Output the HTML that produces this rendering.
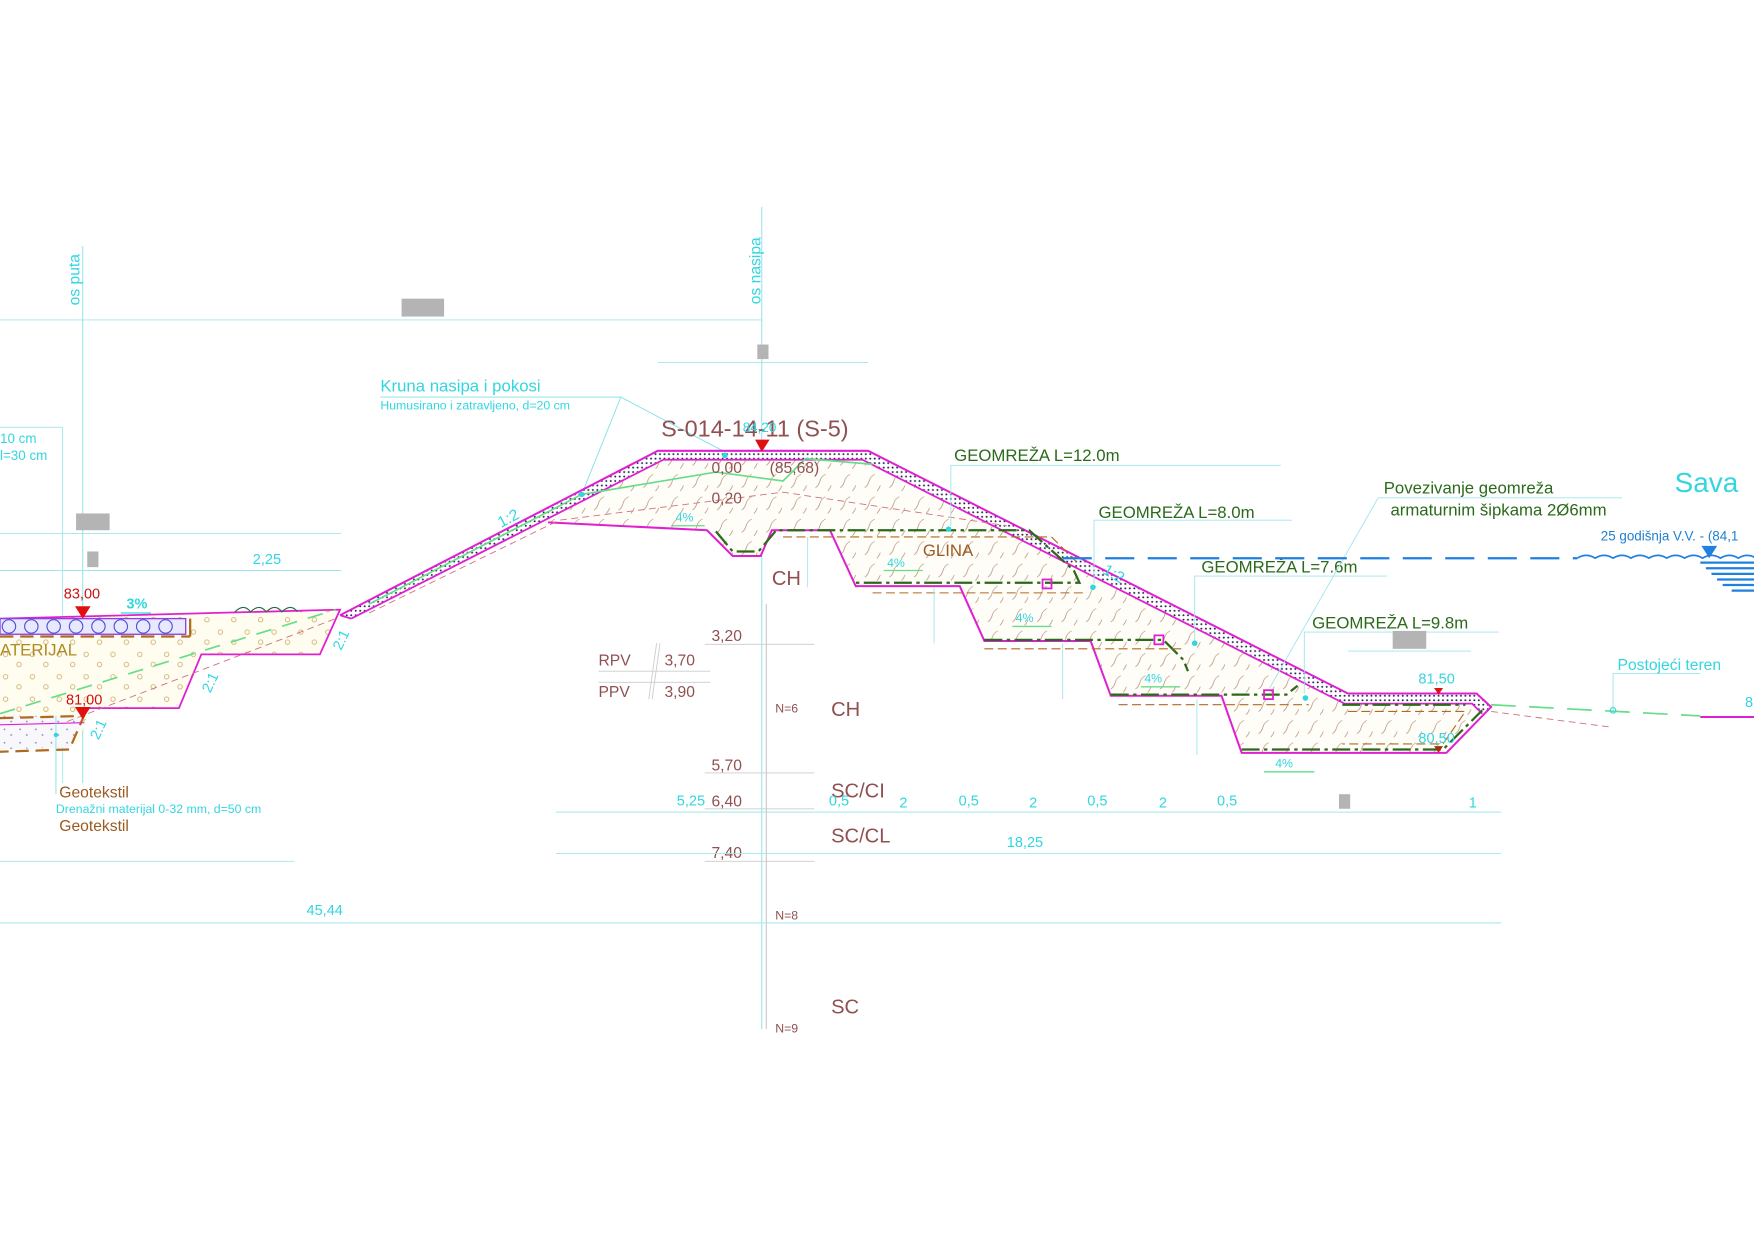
<!DOCTYPE html>
<html><head><meta charset="utf-8"><style>
html,body{margin:0;padding:0;background:#fff;}
svg{display:block;}
text{font-family:"Liberation Sans",sans-serif;}
</style></head><body>
<svg width="1754" height="1240" viewBox="0 0 1568 1108.5" xmlns="http://www.w3.org/2000/svg">
<defs>
<pattern id="clay" width="22" height="20" patternUnits="userSpaceOnUse">
<rect width="22" height="20" fill="#fffdf8"/>
<path d="M3 16 q3 -2 4 -6 q1 -4 5 -6" stroke="#b08a70" stroke-width="0.6" fill="none"/>
<path d="M14 19 q2 -2 3 -5" stroke="#b08a70" stroke-width="0.6" fill="none"/>
</pattern>
<pattern id="grav" width="24" height="20" patternUnits="userSpaceOnUse">
<rect width="24" height="20" fill="#fffdf0"/>
<circle cx="5" cy="5" r="2" stroke="#c9a860" stroke-width="0.7" fill="none"/>
<circle cx="17" cy="14" r="2" stroke="#c9a860" stroke-width="0.7" fill="none"/>
</pattern>
<pattern id="dots" width="4" height="4" patternUnits="userSpaceOnUse">
<rect width="4" height="4" fill="#fff"/>
<circle cx="2" cy="2" r="0.9" fill="#2a2a5a"/>
</pattern>
<pattern id="drain" width="14" height="12" patternUnits="userSpaceOnUse">
<rect width="14" height="12" fill="#f8f8fc"/>
<circle cx="4" cy="4" r="0.8" fill="#8888aa"/>
<circle cx="10" cy="9" r="0.8" fill="#8888aa"/>
</pattern>
</defs>

<!-- axes -->
<line x1="74" y1="220" x2="74" y2="700" stroke="#7fe0e8" stroke-width="0.8"/>
<text transform="translate(71,273) rotate(-90)" font-size="14" fill="#33d6e0">os puta</text>
<line x1="681" y1="185" x2="681" y2="920" stroke="#7fe0e8" stroke-width="0.8"/>
<line x1="685" y1="540" x2="685" y2="920" stroke="#bbb" stroke-width="0.8"/>
<text transform="translate(680,272) rotate(-90)" font-size="14" fill="#33d6e0">os nasipa</text>

<!-- top dims -->
<line x1="0" y1="286" x2="681" y2="286" stroke="#9fe6ec" stroke-width="0.8"/>
<rect x="359" y="267" width="38" height="16" fill="#b4b4b4"/>
<line x1="588" y1="324" x2="776" y2="324" stroke="#9fe6ec" stroke-width="0.8"/>
<rect x="677" y="308" width="10" height="13" fill="#b4b4b4"/>
<line x1="0" y1="477" x2="305" y2="477" stroke="#9fe6ec" stroke-width="0.8"/>
<rect x="68" y="459" width="30" height="15" fill="#b4b4b4"/>
<line x1="0" y1="510" x2="305" y2="510" stroke="#9fe6ec" stroke-width="0.8"/>
<rect x="78" y="493" width="10" height="14" fill="#b4b4b4"/>
<text x="226" y="504" font-size="13" fill="#33d6e0">2,25</text>
<polyline points="0,382 56,382 56,700" fill="none" stroke="#9fe6ec" stroke-width="0.8"/>
<text x="0" y="396" font-size="12" fill="#33d6e0">10 cm</text>
<text x="0" y="411" font-size="12" fill="#33d6e0">l=30 cm</text>

<!-- Kruna labels -->
<text x="340" y="350" font-size="15" fill="#33d6e0">Kruna nasipa i pokosi</text>
<text x="340" y="366" font-size="11" fill="#33d6e0">Humusirano i zatravljeno, d=20 cm</text>
<polyline points="340,355 555,355 650,405" fill="none" stroke="#7fe0e8" stroke-width="0.8"/>
<line x1="555" y1="355" x2="520" y2="442" stroke="#7fe0e8" stroke-width="0.8"/>

<!-- Left road embankment -->
<polygon points="0,553 304,545 286,585 180,585 160,633 80,633 70,665 0,668" fill="url(#grav)"/>
<polygon points="0,640 75,640 64,668 0,670" fill="url(#drain)"/>
<polyline points="0,553 304,545 286,585 180,585 160,633 80,633" fill="none" stroke="#e020d0" stroke-width="1.6"/>
<rect x="0" y="553" width="166" height="14" fill="#e8e8ff" stroke="#9040e0" stroke-width="1.2"/>
<g stroke="#5050e0" stroke-width="1" fill="none">
<circle cx="8" cy="560" r="6"/><circle cx="28" cy="560" r="6"/><circle cx="48" cy="560" r="6"/><circle cx="68" cy="560" r="6"/><circle cx="88" cy="560" r="6"/><circle cx="108" cy="560" r="6"/><circle cx="128" cy="560" r="6"/><circle cx="148" cy="560" r="6"/>
</g>
<line x1="0" y1="569" x2="170" y2="569" stroke="#b06a20" stroke-width="2" stroke-dasharray="12,6"/>
<line x1="170" y1="553" x2="170" y2="569" stroke="#b06a20" stroke-width="2"/>
<polyline points="0,642 75,640 62,670 0,672" fill="none" stroke="#b06a20" stroke-width="2" stroke-dasharray="12,6"/>
<polyline points="0,648 75,646" fill="none" stroke="#e020d0" stroke-width="1"/>
<line x1="0" y1="638" x2="300" y2="545" stroke="#66dd88" stroke-width="1.5" stroke-dasharray="14,10"/>
<line x1="60" y1="645" x2="300" y2="553" stroke="#d07080" stroke-width="0.8" stroke-dasharray="6,4"/>
<text x="0" y="586" font-size="15" fill="#b08a20">ATERIJAL</text>
<polygon points="67,542 81,542 74,553" fill="#e01010"/>
<text x="57" y="535" font-size="13" fill="#cc1010">83,00</text>
<polygon points="67,632 81,632 74,643" fill="#e01010"/>
<text x="59" y="630" font-size="13" fill="#cc1010">81,00</text>
<text x="113" y="544" font-size="13" fill="#33d6e0" font-weight="bold">3%</text>
<line x1="108" y1="548" x2="135" y2="548" stroke="#33d6e0" stroke-width="1.2"/>
<path d="M210 547 q8 -8 14 0 q8 -8 14 0 q8 -8 14 0 q8 -8 14 0" stroke="#2a6a3a" fill="none" stroke-width="1"/>
<text transform="translate(305,582) rotate(-65)" font-size="13" fill="#33d6e0">2:1</text>
<text transform="translate(188,620) rotate(-65)" font-size="13" fill="#33d6e0">2:1</text>
<text transform="translate(88,662) rotate(-65)" font-size="13" fill="#33d6e0">2:1</text>
<line x1="50" y1="640" x2="50" y2="710" stroke="#7fe0e8" stroke-width="0.8"/>
<circle cx="50" cy="657" r="2" fill="#33d6e0"/>

<text x="53" y="713" font-size="14" fill="#9a5a20">Geotekstil</text>
<text x="50" y="727" font-size="11" fill="#33d6e0">Drenažni materijal 0-32 mm, d=50 cm</text>
<text x="53" y="743" font-size="14" fill="#9a5a20">Geotekstil</text>

<!-- Main embankment body -->
<polygon points="304,550 588,403 776,403 1205,620 1320,620 1333,632 1293,673 1110,673 1092,622 993,622 975,573 880,573 858,524 765,524 742,474 690,474 680,497 655,497 632,474 490,467" fill="url(#clay)"/>
<polygon points="304,550 588,403 776,403 1205,620 1320,620 1333,632 1325,638 1316,629 1202,629 771,411 593,411 314,553" fill="url(#dots)"/>
<polyline points="304,550 588,403 776,403 1205,620 1320,620 1333,632 1293,673 1110,673 1092,622 993,622 975,573 880,573 858,524 765,524 742,474 690,474 680,497 655,497 632,474 490,467" fill="none" stroke="#e020d0" stroke-width="1.8"/>
<polyline points="314,553 593,411 771,411 1202,629 1316,629 1325,638" fill="none" stroke="#e020d0" stroke-width="1.6"/>
<line x1="304" y1="550" x2="314" y2="553" stroke="#e020d0" stroke-width="1.6"/>

<!-- inner lines -->
<polyline points="330,540 520,442 640,422 700,430 720,410 780,415" fill="none" stroke="#66dd88" stroke-width="1.5"/>
<polyline points="330,548 500,465 700,440 900,470" fill="none" stroke="#d07080" stroke-width="0.8" stroke-dasharray="6,4"/>
<!-- geogrids -->
<g stroke="#2a6a1a" stroke-width="2" fill="none" stroke-dasharray="16,4,3,4">
<polyline points="640,475 655,493 678,493 694,474 920,474 960,510 965,521 765,521"/>
<polyline points="880,572 1040,572 1058,590 1062,600"/>
<polyline points="993,621 1150,621 1160,613"/>
<polyline points="1110,670 1290,670 1325,635"/>
<polyline points="1200,630 1310,630"/>
</g>
<g stroke="#b06a20" stroke-width="1" fill="none" stroke-dasharray="8,4">
<polyline points="700,480 940,480 965,505"/>
<polyline points="780,530 970,530"/>
<polyline points="880,580 1060,580"/>
<polyline points="1000,630 1170,630"/>
<polyline points="1205,636 1310,636 1290,665 1200,665"/>
</g>
<g fill="none" stroke="#e020d0" stroke-width="1.6">
<rect x="932" y="518" width="8" height="8"/><rect x="1032" y="568" width="8" height="8"/><rect x="1130" y="617" width="8" height="8"/>
</g>
<g fill="#33d6e0"><circle cx="848" cy="473" r="2.5"/><circle cx="977" cy="525" r="2.5"/><circle cx="1068" cy="575" r="2.5"/><circle cx="1167" cy="624" r="2.5"/><circle cx="648" cy="407" r="2.5"/><circle cx="520" cy="442" r="2.5"/></g>
<g font-size="11" fill="#33d6e0">
<text x="604" y="466">4%</text><text x="793" y="507">4%</text><text x="908" y="556">4%</text><text x="1023" y="610">4%</text><text x="1140" y="686">4%</text>
</g>
<g stroke="#66dd88" stroke-width="1.2"><line x1="600" y1="470" x2="630" y2="470"/><line x1="790" y1="510" x2="825" y2="510"/><line x1="905" y1="560" x2="940" y2="560"/><line x1="1020" y1="614" x2="1055" y2="614"/><line x1="1130" y1="690" x2="1175" y2="690"/></g>
<text transform="translate(448,472) rotate(-28)" font-size="14" fill="#33d6e0">1:2</text>
<text transform="translate(985,512) rotate(30)" font-size="14" fill="#33d6e0">1:2</text>
<text x="825" y="497" font-size="15" fill="#9a5a20">GLINA</text>
<g stroke="#9fe6ec" stroke-width="0.8"><line x1="722" y1="480" x2="722" y2="525"/><line x1="835" y1="525" x2="835" y2="575"/><line x1="950" y1="575" x2="950" y2="625"/><line x1="1070" y1="625" x2="1070" y2="675"/></g>

<!-- Borehole -->
<text x="591" y="390" font-size="21" fill="#905050">S-014-14-11 (S-5)</text>
<text x="664" y="386" font-size="12" fill="#33d6e0">84,20</text>
<polygon points="675,393 688,393 681,404" fill="#e01010"/>
<g font-size="14" fill="#905050">
<text x="636" y="423">0,00</text><text x="688" y="423">(85,68)</text>
<text x="636" y="450">0,20</text><text x="636" y="573">3,20</text><text x="636" y="689">5,70</text>
<text x="636" y="721">6,40</text><text x="636" y="767">7,40</text>
<text x="594" y="595">3,70</text><text x="594" y="623">3,90</text>
<text x="535" y="595">RPV</text><text x="535" y="623">PPV</text>
</g>
<g stroke="#ccc" stroke-width="0.8"><line x1="630" y1="576" x2="728" y2="576"/><line x1="630" y1="691" x2="728" y2="691"/><line x1="630" y1="723" x2="728" y2="723"/><line x1="630" y1="770" x2="728" y2="770"/><line x1="535" y1="600" x2="635" y2="600"/><line x1="535" y1="610" x2="635" y2="610"/><line x1="587" y1="575" x2="580" y2="625"/><line x1="590" y1="575" x2="583" y2="625"/></g>
<g font-size="18" fill="#905050">
<text x="690" y="523">CH</text><text x="743" y="640">CH</text><text x="743" y="713">SC/CI</text><text x="743" y="753">SC/CL</text><text x="743" y="906">SC</text>
</g>
<g font-size="11" fill="#905050"><text x="693" y="637">N=6</text><text x="693" y="822">N=8</text><text x="693" y="923">N=9</text></g>

<!-- Bottom dims -->
<line x1="497" y1="726" x2="1342" y2="726" stroke="#9fe6ec" stroke-width="0.8"/>
<line x1="497" y1="763" x2="1342" y2="763" stroke="#9fe6ec" stroke-width="0.8"/>
<line x1="0" y1="770" x2="263" y2="770" stroke="#9fe6ec" stroke-width="0.8"/>
<line x1="0" y1="825" x2="1342" y2="825" stroke="#9fe6ec" stroke-width="0.8"/>
<g font-size="13" fill="#33d6e0">
<text x="605" y="720">5,25</text><text x="741" y="720">0,5</text><text x="804" y="722">2</text><text x="857" y="720">0,5</text><text x="920" y="722">2</text><text x="972" y="720">0,5</text><text x="1036" y="722">2</text><text x="1088" y="720">0,5</text><text x="1313" y="722">1</text>
<text x="900" y="757">18,25</text><text x="274" y="818">45,44</text>
</g>
<rect x="1197" y="710" width="10" height="13" fill="#b4b4b4"/>

<!-- Geomreza labels -->
<g font-size="15" fill="#2a6a1a">
<text x="853" y="412">GEOMREŽA L=12.0m</text>
<text x="982" y="463">GEOMREŽA L=8.0m</text>
<text x="1074" y="512">GEOMREŽA L=7.6m</text>
<text x="1173" y="562">GEOMREŽA L=9.8m</text>
<text x="1237" y="441">Povezivanje geomreža</text>
<text x="1243" y="461">armaturnim šipkama 2Ø6mm</text>
</g>
<g stroke="#9fe6ec" stroke-width="0.8" fill="none">
<polyline points="1145,416 850,416 850,470"/>
<polyline points="1155,465 978,465 978,522"/>
<polyline points="1240,515 1068,515 1068,572"/>
<polyline points="1340,565 1166,565 1166,620"/>
<polyline points="1450,445 1232,445 1135,615"/>
<line x1="1205" y1="582" x2="1315" y2="582"/>
<polyline points="1520,602 1442,602 1442,635"/>
</g>
<rect x="1245" y="564" width="30" height="16" fill="#b4b4b4"/>

<!-- water -->
<text x="1497" y="440" font-size="25" fill="#33d6e0">Sava</text>
<text x="1431" y="483" font-size="12" fill="#2080d0">25 godišnja V.V. - (84,1</text>
<line x1="950" y1="499" x2="1410" y2="499" stroke="#2080e0" stroke-width="2" stroke-dasharray="26,12"/>
<path d="M1410 499 q8 -5 16 0 q8 -5 16 0 q8 -5 16 0 q8 -5 16 0 q8 -5 16 0 q8 -5 16 0 q8 -5 16 0 q8 -5 16 0 q8 -5 16 0 q8 -5 16 0" fill="none" stroke="#2080e0" stroke-width="1.5"/>
<polygon points="1521,488 1535,488 1528,499" fill="#2080e0"/>
<g stroke="#2080e0" stroke-width="2"><line x1="1520" y1="503" x2="1568" y2="503"/><line x1="1525" y1="508" x2="1568" y2="508"/><line x1="1530" y1="513" x2="1568" y2="513"/><line x1="1535" y1="518" x2="1568" y2="518"/><line x1="1540" y1="523" x2="1568" y2="523"/><line x1="1548" y1="528" x2="1568" y2="528"/></g>

<!-- right terrain -->
<text x="1446" y="599" font-size="14" fill="#33d6e0">Postojeći teren</text>
<line x1="1333" y1="630" x2="1520" y2="640" stroke="#66dd88" stroke-width="1.5" stroke-dasharray="22,12"/>
<circle cx="1442" cy="635" r="2.5" fill="none" stroke="#33d6e0"/>
<line x1="1333" y1="636" x2="1440" y2="650" stroke="#d07080" stroke-width="0.8" stroke-dasharray="6,4"/>
<line x1="1520" y1="641" x2="1568" y2="641" stroke="#e020d0" stroke-width="1.8"/>
<text x="1560" y="632" font-size="13" fill="#33d6e0">8</text>
<text x="1268" y="611" font-size="13" fill="#33d6e0">81,50</text>
<polygon points="1282,615 1290,615 1286,621" fill="#e01010"/>
<text x="1268" y="664" font-size="13" fill="#33d6e0">80,50</text>
<polygon points="1282,667 1290,667 1286,673" fill="#a03010"/>
</svg>
</body></html>
